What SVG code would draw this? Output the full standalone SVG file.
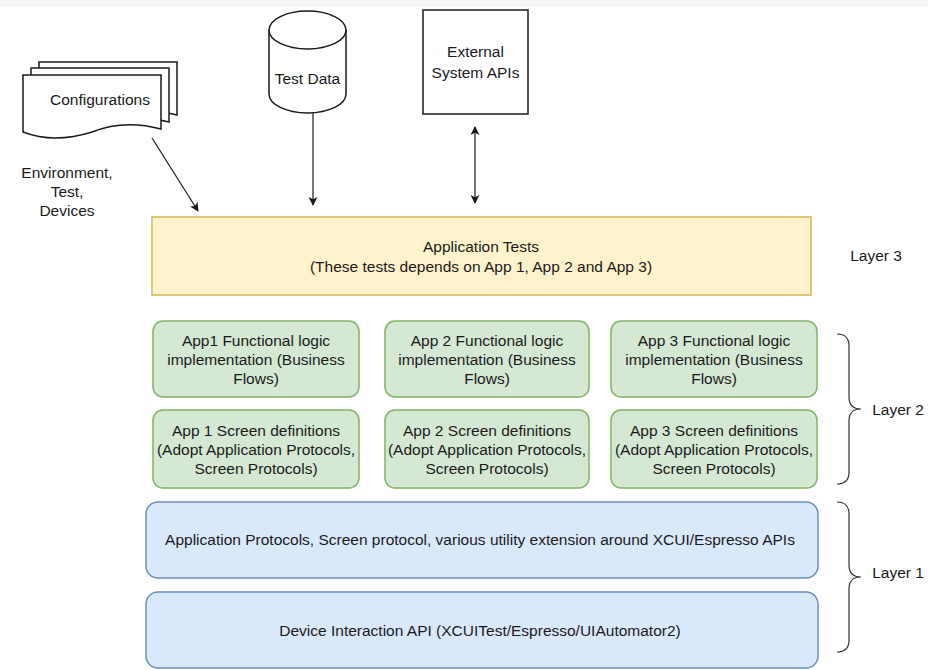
<svg xmlns="http://www.w3.org/2000/svg" width="928" height="670" viewBox="0 0 928 670">
<defs>
<style>
text{font-family:"Liberation Sans",Arial,sans-serif;font-size:15.5px;fill:#1a1a1a;text-anchor:middle}
.doc{fill:#fff;stroke:#1a1a1a;stroke-width:1.5}
.g{fill:#d5e8d4;stroke:#82b366;stroke-width:1.5}
.b{fill:#dae8fc;stroke:#6c8ebf;stroke-width:1.5}
.y{fill:#fff2cc;stroke:#d6b656;stroke-width:1.5}
.ln{fill:none;stroke:#1a1a1a;stroke-width:1.2}
.br{fill:none;stroke:#333;stroke-width:1.2}
</style>
<marker id="ah" viewBox="0 0 10 10" refX="9" refY="5" markerWidth="9" markerHeight="9" orient="auto-start-reverse" markerUnits="userSpaceOnUse">
<path d="M0,0 L10,5 L0,10 L2.5,5 Z" fill="#1a1a1a"/>
</marker>
</defs>
<rect x="0" y="0" width="928" height="670" fill="#fff"/>
<rect x="0" y="0" width="928" height="7" fill="#f7f7f7"/>
<g id="configurations">
<path class="doc" d="M39,62 H177 V115 Q140,105 108,118 Q70,130 39,118 Z"/>
<path class="doc" d="M31,68 H169 V122 Q132,112 100,125 Q62,137 31,125 Z"/>
<path class="doc" d="M23,75 H161 V129 Q124,119 92,132 Q54,144 23,132 Z"/>
<text x="100" y="105">Configurations</text>
</g>
<g id="env-label">
<text x="67" y="178">Environment,</text>
<text x="67" y="197">Test,</text>
<text x="67" y="216">Devices</text>
</g>
<g id="test-data">
<path class="doc" d="M269,30 V94 A38.5,19 0 0 0 346,94 V30"/>
<ellipse class="doc" cx="307.5" cy="30" rx="38.5" ry="19"/>
<text x="307.5" y="84">Test Data</text>
</g>
<g id="external-apis">
<rect class="doc" x="423" y="10" width="105" height="104"/>
<text x="475.5" y="57">External</text>
<text x="475.5" y="78">System APIs</text>
</g>
<g id="connectors">
<line class="ln" x1="152" y1="138" x2="198" y2="211" marker-end="url(#ah)"/>
<line class="ln" x1="313" y1="113" x2="313" y2="205" marker-end="url(#ah)"/>
<line class="ln" x1="475" y1="127" x2="475" y2="203" marker-start="url(#ah)" marker-end="url(#ah)"/>
</g>
<g id="application-tests">
<rect class="y" x="152" y="217" width="659" height="78"/>
<text x="481" y="252">Application Tests</text>
<text x="481" y="272">(These tests depends on App 1, App 2 and App 3)</text>
</g>
<g id="layer3"><text x="876" y="261">Layer 3</text></g>
<g id="app1-logic">
<rect class="g" x="153" y="321" width="206" height="76" rx="10"/>
<text x="256" y="346">App1 Functional logic</text>
<text x="256" y="365">implementation (Business</text>
<text x="256" y="384">Flows)</text>
</g>
<g id="app2-logic">
<rect class="g" x="385" y="321" width="204" height="76" rx="10"/>
<text x="487" y="346">App 2 Functional logic</text>
<text x="487" y="365">implementation (Business</text>
<text x="487" y="384">Flows)</text>
</g>
<g id="app3-logic">
<rect class="g" x="611" y="321" width="206" height="76" rx="10"/>
<text x="714" y="346">App 3 Functional logic</text>
<text x="714" y="365">implementation (Business</text>
<text x="714" y="384">Flows)</text>
</g>
<g id="app1-screens">
<rect class="g" x="153" y="410" width="206" height="78" rx="10"/>
<text x="256" y="436">App 1 Screen definitions</text>
<text x="256" y="455">(Adopt Application Protocols,</text>
<text x="256" y="474">Screen Protocols)</text>
</g>
<g id="app2-screens">
<rect class="g" x="385" y="410" width="204" height="78" rx="10"/>
<text x="487" y="436">App 2 Screen definitions</text>
<text x="487" y="455">(Adopt Application Protocols,</text>
<text x="487" y="474">Screen Protocols)</text>
</g>
<g id="app3-screens">
<rect class="g" x="611" y="410" width="206" height="78" rx="10"/>
<text x="714" y="436">App 3 Screen definitions</text>
<text x="714" y="455">(Adopt Application Protocols,</text>
<text x="714" y="474">Screen Protocols)</text>
</g>
<g id="protocols">
<rect class="b" x="146" y="502" width="672" height="76" rx="12"/>
<text x="480" y="545">Application Protocols, Screen protocol, various utility extension around XCUI/Espresso APIs</text>
</g>
<g id="device-api">
<rect class="b" x="146" y="592" width="672" height="76" rx="12"/>
<text x="480" y="636">Device Interaction API (XCUITest/Espresso/UIAutomator2)</text>
</g>
<g id="layer2">
<path class="br" d="M837,334 Q849,334 849,346 V397 Q849,409 861,409 Q849,409 849,421 V472 Q849,484 837,484"/>
<text x="898" y="415">Layer 2</text>
</g>
<g id="layer1">
<path class="br" d="M837,502 Q849,502 849,514 V565 Q849,577 861,577 Q849,577 849,589 V640 Q849,652 837,652"/>
<text x="898" y="578">Layer 1</text>
</g>
</svg>
